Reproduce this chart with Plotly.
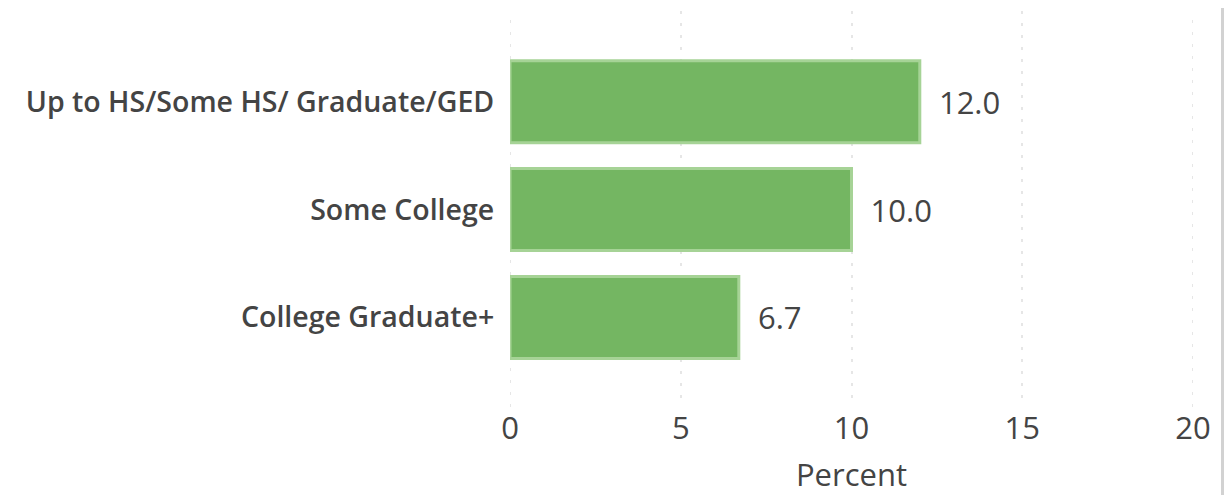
import plotly.graph_objects as go

categories = ['Up to HS/Some HS/ Graduate/GED', 'Some College', 'College Graduate+']
percent = [12.0, 10.0, 6.7]
x_ticks = [0, 5, 10, 15, 20]

fig = go.Figure()
fig.add_trace(go.Bar(
    y=categories,
    x=percent,
    orientation='h',
    marker_color='#74b662',
    marker_line=dict(color='#a6d396', width=3),
    text=[f'{v:.1f}' for v in percent],
    texttemplate='\u00a0\u00a0%{text}',
    textposition='outside',
    cliponaxis=False,
    textfont=dict(size=31, color='#444444', family='Open Sans'),
    width=0.76,
))

grid_style = dict(color='#e6e6e6', width=2, dash='3px,9px')

# page body has an 8px margin, so the figure is a bit smaller than the window
fig.update_layout(
    width=1224, height=487,
    margin=dict(l=502, r=39, t=3, b=86),
    paper_bgcolor='white',
    plot_bgcolor='white',
    showlegend=False,
    font=dict(family='Open Sans', color='#444444'),
    xaxis=dict(
        range=[0, 20],
        tickvals=x_ticks,
        showgrid=True,
        gridcolor=grid_style['color'],
        gridwidth=grid_style['width'],
        griddash=grid_style['dash'],
        zeroline=False,
        showline=False,
        ticks='',
        tickfont=dict(size=31, color='#444444'),
        title=dict(text='Percent', font=dict(size=31, color='#444444'), standoff=22),
    ),
    yaxis=dict(
        type='category',
        range=[2.83, -0.84],
        showgrid=False,
        zeroline=False,
        ticks='',
        ticksuffix='  ',
        tickfont=dict(size=28.5, color='#444444', weight=600),
    ),
    shapes=[
        # edge of the panel frame on the right
        dict(type='rect', xref='paper', yref='paper', x0=1.041, x1=1.1, y0=-0.5, y1=1.5,
             fillcolor='#d2d2d2', line_width=0, layer='above'),
    ],
)

# edge grid lines that plotly leaves out
for edge in (x_ticks[0], x_ticks[-1]):
    fig.add_shape(type='line', xref='x', yref='paper', x0=edge, x1=edge, y0=0, y1=1,
                  line=grid_style, layer='below')

fig.write_html('out.html', config={'displayModeBar': False})
